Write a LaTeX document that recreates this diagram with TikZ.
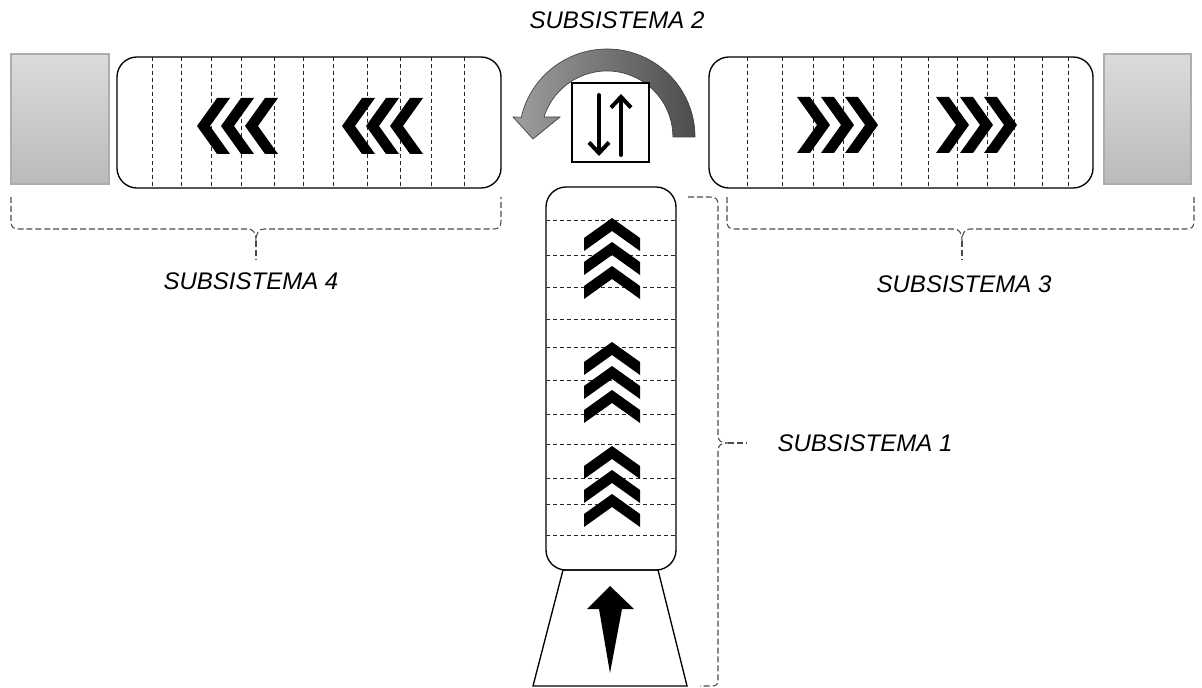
\documentclass[tikz,border=0pt]{standalone}
\usepackage{fontspec}
\setmainfont{Liberation Sans}
\usetikzlibrary{arrows.meta}
\tikzset{
  belt/.style={draw, line width=1pt, rounded corners=15pt, fill=white},
  slat/.style={black!85, line width=0.7pt, dash pattern=on 3pt off 2.2pt},
  post/.style={draw=black!32, line width=0.8pt, top color=black!14, bottom color=black!27},
  brk/.style={black!70, line width=0.8pt, dash pattern=on 4.5pt off 2.2pt},
  turn/.style={draw=black!75, line width=0.5pt, left color=black!38, right color=black!70},
  updown/.style={line width=3pt, line cap=round, -{Straight Barb[length=8pt,width=15pt]}},
  sublabel/.style={font=\fontsize{18}{21}\selectfont\itshape},
  chev/.pic={\fill (0,0) -- (20,-28) -- (33,-28) -- (13,0) -- (33,28) -- (20,28) -- cycle;},
}

\begin{document}
\begin{tikzpicture}[x=0.75pt, y=-0.75pt]
  \useasboundingbox (0,0) rectangle (1202,688);

  % end posts
  \shadedraw[post] (11,54) rectangle (109,184);
  \shadedraw[post] (1104,54) rectangle (1191,184);

  % subsystem 4 (to the left)
  \draw[belt] (117,57) rectangle (501,188);
  \foreach \x in {152,181,211,241,274,303,333,367,400,431,464}
    \draw[slat] (\x,57) -- (\x,188);
  \foreach \x in {197,221,245,342,366,390}
    \pic at (\x,126) {chev};

  % subsystem 3 (to the right)
  \draw[belt] (709,57) rectangle (1093,188);
  \foreach \x in {747,782,813,843,873,901,928,957,987,1014,1042,1068}
    \draw[slat] (\x,57) -- (\x,188);
  \foreach \x in {830,854,878,969,993,1017}
    \pic[rotate=180] at (\x,125) {chev};

  % subsystem 1 (infeed)
  \draw[belt] (546,187) rectangle (676,570);
  \foreach \y in {220,255,287,319,347,380,414,444,478,504,535}
    \draw[slat] (546,\y) -- (676,\y);
  \foreach \y in {218,242,266,342,366,390,446,470,494}
    \pic[rotate=-90] at (612,\y) {chev};
  \draw[line width=1pt] (563,570) -- (658,570) -- (687,686) -- (533,686) -- cycle;
  \fill (610,586) -- (634,609) -- (622,609) -- (610,673) -- (599,609) -- (587,609) -- cycle;

  % subsystem 2 (turntable)
  \shadedraw[turn] (695,137) arc[start angle=0, end angle=-167, radius=88]
    -- (513,117) -- (533,139) -- (560,117) -- (544,117)
    arc[start angle=-162.4, end angle=0, radius=66] -- cycle;
  \draw[line width=1pt, fill=white] (572,83) rectangle (649,162);
  \draw[updown] (599,95) -- (599,156);
  \draw[updown] (621,155) -- (621,94);

  % braces
  \draw[brk] (11,197) -- (11,221) .. controls (11,227) and (13,229) .. (19,229) -- (248,229)
    .. controls (253,229) and (256,233) .. (256,241) .. controls (256,233) and (259,229) .. (264,229)
    -- (493,229) .. controls (499,229) and (501,227) .. (501,221) -- (501,197);
  \draw[brk] (256,241) -- (256,260);
  \draw[brk] (727,197) -- (727,221) .. controls (727,227) and (729,229) .. (735,229) -- (954,229)
    .. controls (959,229) and (962,233) .. (962,241) .. controls (962,233) and (965,229) .. (970,229)
    -- (1186,229) .. controls (1192,229) and (1194,227) .. (1194,221) -- (1194,197);
  \draw[brk] (962,241) -- (962,260);
  \draw[brk] (688,197) -- (710,197) .. controls (716,197) and (718,199) .. (718,205) -- (718,435)
    .. controls (718,441) and (721,443) .. (728,443) .. controls (721,443) and (718,445) .. (718,451)
    -- (718,680) .. controls (718,685) and (716,686) .. (711,686) -- (700,686);
  \draw[brk] (728,443) -- (747,443);

  % labels
  \node[sublabel] (sub2) at (617,20) {SUBSISTEMA 2};
  \node[sublabel] (sub4) at (251,281) {SUBSISTEMA 4};
  \node[sublabel] (sub3) at (964,284) {SUBSISTEMA 3};
  \node[sublabel] (sub1) at (865,443) {SUBSISTEMA 1};
\end{tikzpicture}
\end{document}
